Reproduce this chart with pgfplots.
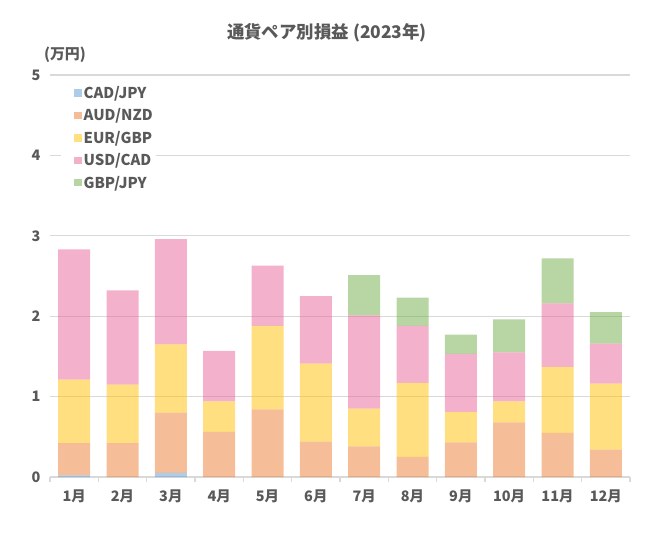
\documentclass[border=0pt]{standalone}
\usepackage{fontspec}
\setmainfont{Noto Sans CJK JP}
\usepackage{pgfplots}
\pgfplotsset{compat=1.18}
\usepackage{pgfplotstable}
\definecolor{txt}{HTML}{595959}
\definecolor{gridc}{HTML}{D9D9D9}
\definecolor{cblue}{HTML}{5B9BD5}
\definecolor{corange}{HTML}{ED7D31}
\definecolor{cyellow}{HTML}{FFC000}
\definecolor{cpink}{HTML}{E96397}
\definecolor{cgreen}{HTML}{70AD47}
\pgfplotstableread{
x cad aud eur usd gbp
0 0.02 0.40 0.79 1.62 0
1 0 0.42 0.73 1.17 0
2 0.05 0.75 0.85 1.31 0
3 0 0.56 0.38 0.63 0
4 0 0.84 1.04 0.75 0
5 0 0.44 0.97 0.84 0
6 0 0.38 0.47 1.16 0.50
7 0 0.25 0.92 0.71 0.35
8 0 0.43 0.38 0.72 0.24
9 0 0.68 0.26 0.61 0.41
10 0 0.55 0.82 0.79 0.56
11 0 0.34 0.82 0.50 0.39
}\data
\begin{document}
\begin{tikzpicture}
\useasboundingbox (-50bp,-59bp) rectangle (603bp,477bp);
\begin{axis}[
  at={(0,0)}, anchor=south west,
  scale only axis, width=580bp, height=402bp,
  ybar stacked, bar width=32bp,
  xmin=-0.5, xmax=11.5, ymin=0, ymax=5,
  xtick={0,...,11},
  xticklabels={1月,2月,3月,4月,5月,6月,7月,8月,9月,10月,11月,12月},
  minor xtick={-0.5,0.5,...,11.5},
  ytick={0,1,2,3,4,5},
  major tick length=0pt,
  minor tick length=5bp,
  tick align=outside,
  minor x tick style={draw=gridc, line width=1.2bp},
  ymajorgrids, major grid style={draw=gridc, line width=1.3bp},
  axis x line*=bottom, axis y line*=left,
  x axis line style={draw=gridc, line width=1.3bp, -},
  y axis line style={draw=none},
  /pgf/number format/assume math mode=true,
  ticklabel style={font=\bfseries\fontsize{14.5}{16}\selectfont, text=txt},
  yticklabel style={xshift=-6bp},
  xticklabel style={yshift=-9bp},
  legend style={at={(11bp,395bp)}, anchor=north west, draw=none, fill=white,
    font=\bfseries\fontsize{15}{16}\selectfont, text=txt,
    row sep=4.8bp, inner xsep=1bp, inner ysep=2bp},
  legend cell align=left,
  legend image code/.code={\path (0bp,0bp); \fill[#1] (12bp,-3.7bp) rectangle (19.4bp,3.7bp);},
  every axis plot/.append style={draw=none, fill opacity=0.5},
]
\addplot[fill=cblue] table[x=x,y=cad]{\data};
\addplot[fill=corange] table[x=x,y=aud]{\data};
\addplot[fill=cyellow] table[x=x,y=eur]{\data};
\addplot[fill=cpink] table[x=x,y=usd]{\data};
\addplot[fill=cgreen] table[x=x,y=gbp]{\data};
\legend{CAD/JPY,AUD/NZD,EUR/GBP,USD/CAD,GBP/JPY}
\end{axis}
\node[text=txt, font=\bfseries\fontsize{17.5}{20}\selectfont] at (277bp,444bp) {通貨ペア別損益 (2023年)};
\node[text=txt, font=\bfseries\fontsize{15}{16}\selectfont] at (15bp,422bp) {(万円)};
\end{tikzpicture}
\end{document}
